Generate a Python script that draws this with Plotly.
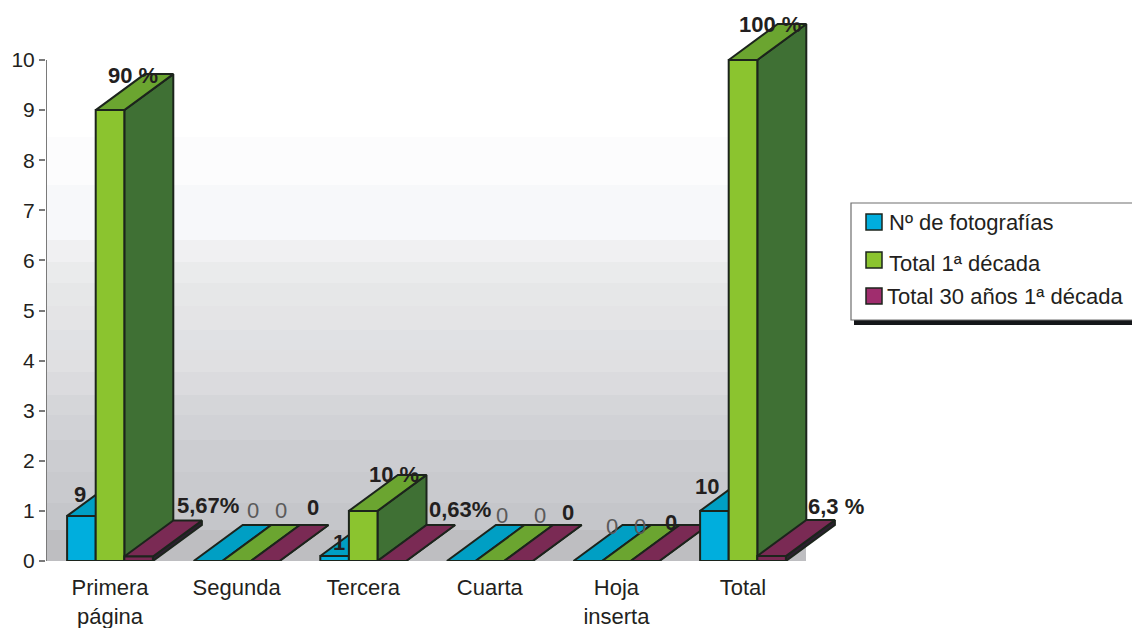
import plotly.graph_objects as go

# ---------- data ----------
categories = ["Primera<br>página", "Segunda", "Tercera", "Cuarta", "Hoja<br>inserta", "Total"]
series_names = ["Nº de fotografías", "Total 1ª década", "Total 30 años 1ª década"]
n_fotos = [0.9, 0, 0.1, 0, 0, 1.0]
total_decada = [9, 0, 1, 0, 0, 10]
total_30 = [0.09, 0, 0, 0, 0, 0.1]
labels_fotos = ["9", "0", "1", "0", "0", "10"]
labels_decada = ["90 %", "0", "10 %", "0", "0", "100 %"]
labels_30 = ["5,67%", "0", "0,63%", "0", "0", "6,3 %"]
y_ticks = list(range(0, 11))

# ---------- styles / geometry ----------
W, H = 1132, 628
ML, MB, MT = 46, 67, 10
PX_PER_CAT = 126.6
PX_PER_UNIT = 50.1
CAT0_PX = 110
BAR_W = 28.6 / PX_PER_CAT
DEPTH_X = 49 / PX_PER_CAT
DEPTH_Y = 36 / PX_PER_UNIT
INK = "#1c241c"
DARK_TEXT = "#231f20"
GREY_TEXT = "#5a5a5a"

FACE = [
    dict(front="#00aedd", top="#009fc4", side="#007f9e"),
    dict(front="#8bc42f", top="#6ba530", side="#3f7034"),
    dict(front="#7a2a54", top="#7a2a54", side="#2c2030"),
]
LEGEND_SWATCH = ["#00aede", "#8bc42f", "#a02d6e"]

# pixel offsets of the labels from their bar tops, and whether each is bold
SHIFT_FOTOS = [(-1, 21), (45, 51), (4, 13), (41, 46), (24, 35), (-7, 24)]
SHIFT_DECADA = [(23, 35), (44, 51), (31, 36), (50, 46), (24, 35), (27, 36)]
SHIFT_30 = [(69, 51), (48, 54), (68, 52), (50, 49), (26, 39), (64, 49)]
BOLD_FOTOS = [True, False, True, False, False, True]
BOLD_DECADA = [True, False, True, False, False, True]
BOLD_30 = [True] * 6

WALL_EDGES_PX = [137, 185, 240, 262, 283, 306, 330, 350, 372, 395, 415, 440, 472, 503, 530, 561]
WALL_GREYS = ["#fcfcfd", "#f7f8fa", "#f0f0f2", "#eaebec", "#e6e7e8", "#e4e4e6", "#e0e1e4",
              "#e0e0e2", "#dbdbde", "#d5d6d9", "#d1d2d6", "#cccdd1", "#c9cace", "#c5c6ca", "#bebec1"]


def px_x(px):
    return (px - CAT0_PX) / PX_PER_CAT


def px_y(py):
    return (561 - py) / PX_PER_UNIT


fig = go.Figure()


def poly(xs, ys, color, width=2):
    fig.add_trace(go.Scatter(
        x=xs + xs[:1], y=ys + ys[:1], mode="lines", fill="toself", fillcolor=color,
        line=dict(color=INK, width=width), hoverinfo="skip", showlegend=False, cliponaxis=False,
    ))


all_series = [n_fotos, total_decada, total_30]
for cat in range(len(categories)):
    for s, values in enumerate(all_series):
        v = values[cat]
        x0 = cat + (s - 1.5) * BAR_W
        x1 = x0 + BAR_W
        f = FACE[s]
        poly([x1, x1 + DEPTH_X, x1 + DEPTH_X, x1], [0, DEPTH_Y, v + DEPTH_Y, v], f["side"])
        poly([x0, x1, x1 + DEPTH_X, x0 + DEPTH_X], [v, v, v + DEPTH_Y, v + DEPTH_Y], f["top"])
        poly([x0, x1, x1, x0], [0, 0, v, v], f["front"])

# y axis line, from 0 to 10 only
fig.add_trace(go.Scatter(x=[px_x(ML), px_x(ML)], y=[y_ticks[0], y_ticks[-1]], mode="lines",
                         line=dict(color="#7a7a7a", width=2), hoverinfo="skip",
                         showlegend=False, cliponaxis=False))

annotations = []
for s, (values, labels, shifts, bolds) in enumerate([
    (n_fotos, labels_fotos, SHIFT_FOTOS, BOLD_FOTOS),
    (total_decada, labels_decada, SHIFT_DECADA, BOLD_DECADA),
    (total_30, labels_30, SHIFT_30, BOLD_30),
]):
    for cat, (v, t, sh, b) in enumerate(zip(values, labels, shifts, bolds)):
        annotations.append(dict(
            x=cat + (s - 1) * BAR_W, y=v, xref="x", yref="y", text=f"<b>{t}</b>" if b else t,
            xshift=sh[0], yshift=sh[1], showarrow=False, xanchor="center", yanchor="middle",
            font=dict(family="Liberation Sans", size=22, color=DARK_TEXT if b else GREY_TEXT),
        ))

shapes = []
for i, grey in enumerate(WALL_GREYS):
    shapes.append(dict(type="rect", xref="x", yref="y", layer="below", line=dict(width=0),
                       fillcolor=grey, x0=px_x(ML), x1=px_x(806),
                       y0=px_y(WALL_EDGES_PX[i]), y1=px_y(WALL_EDGES_PX[i + 1])))

# legend box, drawn by hand because its rows are unevenly spaced
shapes.append(dict(type="rect", xref="x", yref="y", layer="above", line=dict(width=0), fillcolor="#15171a",
                   x0=px_x(854), x1=px_x(W + 5), y0=px_y(320), y1=px_y(325)))
shapes.append(dict(type="rect", xref="x", yref="y", layer="above", line=dict(color="#6e6e6e", width=1.2),
                   fillcolor="white", x0=px_x(851), x1=px_x(W + 5), y0=px_y(203), y1=px_y(320)))
LEGEND_ROWS = [222, 260, 296]
LEGEND_TEXT_ROWS = [222, 263, 296]
LEGEND_TEXT_X = [887, 887, 885]
for name, col, row, trow, tx in zip(series_names, LEGEND_SWATCH, LEGEND_ROWS, LEGEND_TEXT_ROWS, LEGEND_TEXT_X):
    shapes.append(dict(type="rect", xref="x", yref="y", layer="above", line=dict(color=INK, width=1.5),
                       fillcolor=col, x0=px_x(866), x1=px_x(882), y0=px_y(row - 8), y1=px_y(row + 8)))
    annotations.append(dict(x=px_x(tx), y=px_y(trow), xref="x", yref="y", text=name, showarrow=False,
                            xanchor="left", yanchor="middle",
                            font=dict(family="Liberation Sans", size=22, color=DARK_TEXT)))

fig.update_layout(
    width=W, height=H, margin=dict(l=ML, r=0, t=MT, b=MB, pad=0),
    paper_bgcolor="white", plot_bgcolor="white", showlegend=False,
    shapes=shapes, annotations=annotations,
    font=dict(family="Liberation Sans", color=DARK_TEXT),
    xaxis=dict(range=[px_x(ML), px_x(W)], tickmode="array", tickvals=list(range(len(categories))),
               ticktext=categories, showgrid=False, zeroline=False, showline=False,
               ticks="outside", ticklen=7, tickcolor="rgba(0,0,0,0)",
               tickfont=dict(size=22, color=DARK_TEXT), automargin=False, tickangle=0),
    yaxis=dict(range=[0, (H - MB - MT) / PX_PER_UNIT], tickmode="array", tickvals=y_ticks,
               showgrid=False, zeroline=False, showline=False, ticks="outside", ticklen=6,
               tickwidth=1.5, tickcolor="#7a7a7a", tickfont=dict(size=21, color=DARK_TEXT),
               automargin=False),
)

fig.write_html("out.html", config={"displayModeBar": False},
               post_script="document.body.style.margin='0';document.documentElement.style.overflow='hidden';")
